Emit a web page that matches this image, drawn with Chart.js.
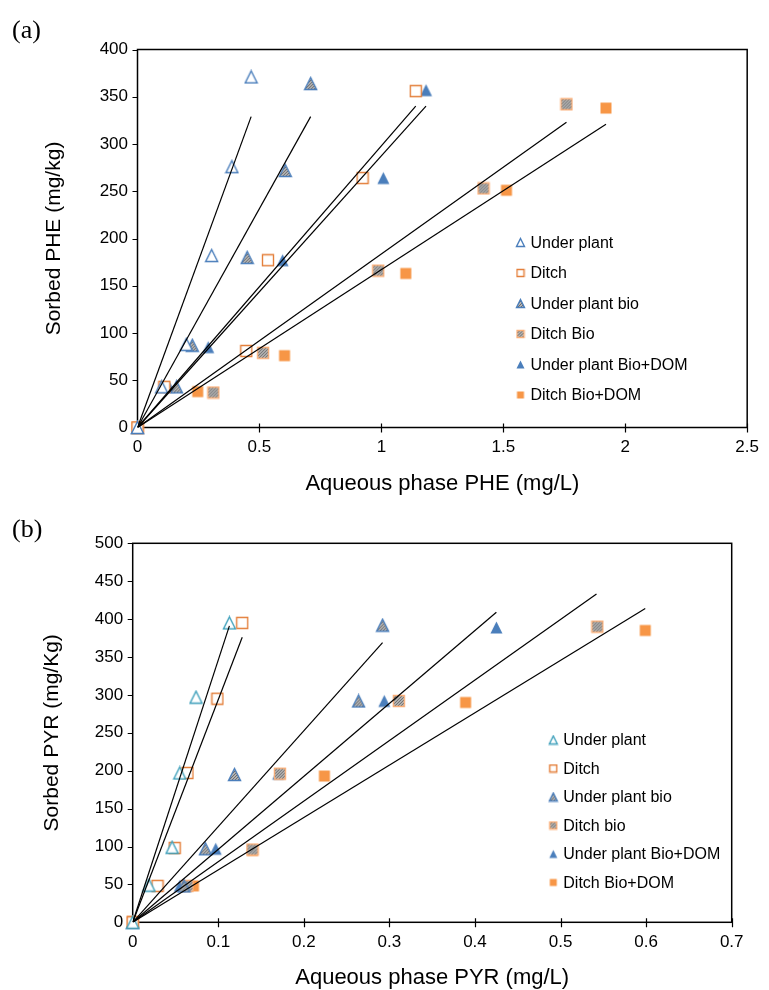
<!DOCTYPE html>
<html>
<head>
<meta charset="utf-8">
<title>Sorption isotherms</title>
<script src="https://cdn.jsdelivr.net/npm/chart.js@4.4.1/dist/chart.umd.min.js"></script>
<style>
body{margin:0;background:#fff;}
.panel{position:relative;width:769px;height:495px;}
.panel canvas{position:absolute;left:0;top:0;}
.tag{position:absolute;left:12px;font:26px/26px "Liberation Serif","DejaVu Serif",serif;color:#000;z-index:2;}
</style>
</head>
<body>
<div class="panel"><canvas id="phe" width="769" height="495"></canvas><span class="tag" style="top:17px">(a)</span></div>
<div class="panel"><canvas id="pyr" width="769" height="495"></canvas><span class="tag" style="top:21px">(b)</span></div>
<script>
// series names
var pheSeries = ["Under plant", "Ditch", "Under plant bio", "Ditch Bio", "Under plant Bio+DOM", "Ditch Bio+DOM"];
var pyrSeries = ["Under plant", "Ditch", "Under plant bio", "Ditch bio", "Under plant Bio+DOM", "Ditch Bio+DOM"];

// PHE: [aqueous mg/L, sorbed mg/kg]
var pheUnderPlant   = [[0,0],[0.099,43],[0.2,88],[0.304,182],[0.387,276],[0.466,371]];
var pheDitch        = [[0,0],[0.11,43],[0.446,81],[0.535,177],[0.923,264],[1.141,356]];
var pheUnderBio     = [[0,0],[0.16,43],[0.225,87],[0.45,180],[0.606,272],[0.71,364]];
var pheDitchBio     = [[0,0],[0.311,37],[0.515,79],[0.987,166],[1.419,253],[1.759,342]];
var pheUnderBioDom  = [[0,0],[0.13,43],[0.29,85],[0.595,177],[1.008,264],[1.183,357]];
var pheDitchBioDom  = [[0,0],[0.247,38],[0.603,76],[1.1,163],[1.513,251],[1.921,338]];
// end of each linear fit (starts at origin), same order as pheSeries
var pheFitEnd = [[0.466,329],[1.141,340],[0.71,329],[1.759,323],[1.183,340],[1.921,321]];
var pheXTicks = ["0","0.5","1","1.5","2","2.5"];
var pheYTicks = ["0","50","100","150","200","250","300","350","400"];

// PYR: [aqueous mg/L, sorbed mg/Kg]
var pyrUnderPlant   = [[0,0],[0.019,49],[0.046,99],[0.055,197],[0.074,297],[0.113,395]];
var pyrDitch        = [[0,0],[0.029,48],[0.049,98],[0.064,197],[0.099,295],[0.128,395]];
var pyrUnderBio     = [[0,0],[0.06,48],[0.085,97],[0.119,195],[0.264,292],[0.292,392]];
var pyrDitchBio     = [[0,0],[0.064,48],[0.14,96],[0.172,196],[0.311,292],[0.543,390]];
var pyrUnderBioDom  = [[0,0],[0.055,48],[0.097,97],[0.17,196],[0.294,292],[0.425,389]];
var pyrDitchBioDom  = [[0,0],[0.071,48],[0.14,95],[0.224,193],[0.389,290],[0.599,385]];
var pyrFitEnd = [[0.113,391],[0.128,376],[0.292,369],[0.542,433],[0.425,409],[0.599,414]];
var pyrXTicks = ["0","0.1","0.2","0.3","0.4","0.5","0.6","0.7"];
var pyrYTicks = ["0","50","100","150","200","250","300","350","400","450","500"];

var FONT = "'Liberation Sans', Arial, sans-serif";
var BLUE = "#4a7ebb", ORANGE = "#f79646", GREY = "#b4b4b4";

function shapePath(g, shape, m, s){
    g.beginPath();
    if(shape == "tri"){
        g.moveTo(m + s/2, m);
        g.lineTo(m + s, m + s);
        g.lineTo(m, m + s);
        g.closePath();
    }
    else{
        g.rect(m, m, s, s);
    }
}

// little canvas used as point style
function marker(shape, size, stroke, fill, hatched){
    var m = 1.5;
    var c = document.createElement("canvas");
    c.width = size + 2*m; c.height = size + 2*m;
    var g = c.getContext("2d");
    shapePath(g, shape, m, size);
    g.fillStyle = fill;
    g.fill();
    if(hatched){
        g.save();
        g.clip();
        g.strokeStyle = "#6a6a6a";
        g.lineWidth = 1;
        for(var k = -size; k < 2*size; k += 3){
            g.beginPath();
            g.moveTo(m + k, m + size);
            g.lineTo(m + k + size, m);
            g.stroke();
        }
        g.restore();
    }
    if(stroke){
        shapePath(g, shape, m, size);
        g.strokeStyle = stroke;
        g.lineWidth = 1.4;
        g.stroke();
    }
    return c;
}

function styles(firstColor, size){
    return [
        marker("tri", size, firstColor, "#fff", false),
        marker("sq", size - 1, "#e4803c", "#fff", false),
        marker("tri", size, BLUE, GREY, true),
        marker("sq", size - 1, "#f9ae78", GREY, true),
        marker("tri", size, null, BLUE, false),
        marker("sq", size - 1, null, ORANGE, false)
    ];
}

function pts(list){
    return list.map(function(p){ return {x: p[0], y: p[1]}; });
}

// frame, tick marks and in-plot legend
var framePlugin = {
    id: "frame",
    beforeDatasetsDraw: function(chart){
        var a = chart.chartArea, ctx = chart.ctx;
        ctx.save();
        ctx.strokeStyle = "#000";
        ctx.lineWidth = 1.5;
        ctx.strokeRect(a.left, a.top, a.right - a.left, a.bottom - a.top);
        ctx.lineWidth = 1.2;
        ctx.beginPath();
        chart.scales.y.ticks.forEach(function(t){
            var y = Math.round(chart.scales.y.getPixelForValue(t.value)) + 0.5;
            ctx.moveTo(a.left - 5, y); ctx.lineTo(a.left, y);
        });
        chart.scales.x.ticks.forEach(function(t){
            var x = Math.round(chart.scales.x.getPixelForValue(t.value)) + 0.5;
            ctx.moveTo(x, a.bottom - 4); ctx.lineTo(x, a.bottom + 5);
        });
        ctx.stroke();
        ctx.restore();
    },
    afterDraw: function(chart, args, opts){
        var a = chart.chartArea, ctx = chart.ctx;
        ctx.save();
        ctx.font = "16px " + FONT;
        ctx.fillStyle = "#000";
        ctx.textBaseline = "middle";
        opts.names.forEach(function(name, i){
            var y = a.top + opts.y + i*opts.gap;
            var img = opts.icons[i];
            ctx.drawImage(img, a.left + opts.x - img.width/2, y - img.height/2);
            ctx.fillText(name, a.left + opts.x + 10, y + 1);
        });
        ctx.restore();
    }
};

function build(id, names, series, fitEnd, xTicks, yTicks, xMax, yMax, xStep, yStep, firstColor, titles, box){
    var big = styles(firstColor, 12);
    var small = styles(firstColor, 8);
    var datasets = [];
    fitEnd.forEach(function(e){
        datasets.push({
            type: "scatter",
            data: pts([[0,0], e]),
            showLine: true,
            borderColor: "#000",
            borderWidth: 1.2,
            pointRadius: 0,
            order: 0
        });
    });
    series.forEach(function(s, i){
        datasets.push({
            type: "scatter",
            label: names[i],
            data: pts(s),
            pointStyle: big[i],
            pointRadius: 6,
            clip: false,
            order: 1
        });
    });
    return new Chart(document.getElementById(id), {
        type: "scatter",
        data: {datasets: datasets},
        options: {
            responsive: false,
            animation: false,
            layout: {padding: {left: 0, right: box.right, top: box.top, bottom: 0}},
            plugins: {
                legend: {display: false},
                tooltip: {enabled: false},
                frame: {names: names, icons: small, x: box.legX, y: box.legY, gap: box.legGap}
            },
            scales: {
                x: {
                    type: "linear", min: 0, max: xMax,
                    grid: {display: false, drawTicks: false},
                    border: {display: false},
                    afterFit: function(s){ s.height = box.xHeight; },
                    ticks: {
                        stepSize: xStep, padding: 10, color: "#000",
                        font: {family: FONT, size: 17},
                        callback: function(v, i){ return xTicks[i]; }
                    },
                    title: {
                        display: true, text: titles[0], color: "#000",
                        font: {family: FONT, size: 22, lineHeight: 1},
                        padding: {top: 0, bottom: box.xTitlePad}
                    }
                },
                y: {
                    type: "linear", min: 0, max: yMax,
                    grid: {display: false, drawTicks: false},
                    border: {display: false},
                    afterFit: function(s){ s.width = box.yWidth; },
                    ticks: {
                        stepSize: yStep, padding: 9.5, color: "#000",
                        font: {family: FONT, size: 17},
                        callback: function(v, i){ return yTicks[i]; }
                    },
                    title: {
                        display: true, text: titles[1], color: "#000",
                        font: {family: FONT, size: 21, lineHeight: 1},
                        padding: {top: box.yTitlePad, bottom: 0}
                    }
                }
            }
        },
        plugins: [framePlugin]
    });
}

build("phe", pheSeries,
    [pheUnderPlant, pheDitch, pheUnderBio, pheDitchBio, pheUnderBioDom, pheDitchBioDom],
    pheFitEnd, pheXTicks, pheYTicks, 2.5, 400, 0.5, 50, BLUE,
    ["Aqueous phase PHE (mg/L)", "Sorbed PHE (mg/kg)"],
    {right: 16.7, top: 49.5, xHeight: 67.5, yWidth: 137.5, xTitlePad: 0, yTitlePad: 44,
     legX: 383, legY: 193, legGap: 30.5});

build("pyr", pyrSeries,
    [pyrUnderPlant, pyrDitch, pyrUnderBio, pyrDitchBio, pyrUnderBioDom, pyrDitchBioDom],
    pyrFitEnd, pyrXTicks, pyrYTicks, 0.7, 500, 0.1, 50, "#3fa0bb",
    ["Aqueous phase PYR (mg/L)", "Sorbed PYR (mg/Kg)"],
    {right: 37.3, top: 48.3, xHeight: 67.7, yWidth: 132.7, xTitlePad: 1, yTitlePad: 42,
     legX: 420.6, legY: 196.7, legGap: 28.5});
</script>
</body>
</html>
